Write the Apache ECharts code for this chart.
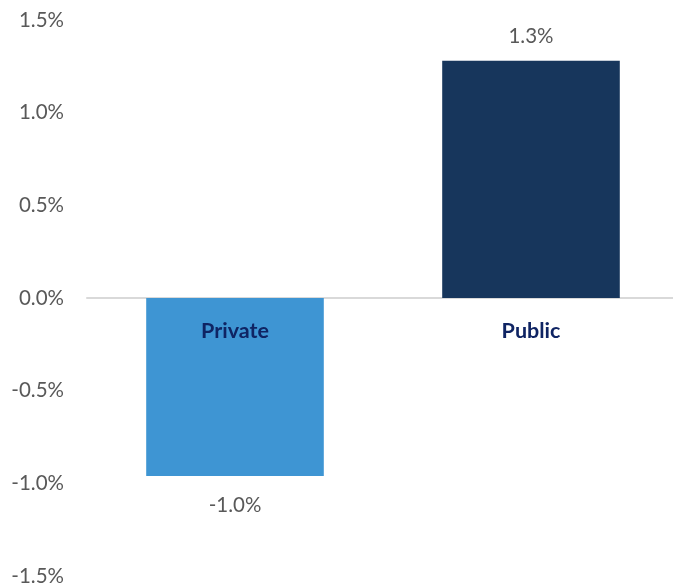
<!DOCTYPE html>
<html>
<head>
<meta charset="utf-8">
<script src="https://cdn.jsdelivr.net/npm/echarts@6/dist/echarts.min.js"></script>
<style>
  html, body { margin: 0; padding: 0; background: #ffffff; }
  #chart { width: 673px; height: 584px; }
</style>
</head>
<body>
<div id="chart"></div>
<script>
// Growth by sector, in percent
const categories = ['Private', 'Public'];
const values = [-0.96, 1.28];
const barColors = ['#3E95D3', '#17365C'];
const yTicks = [-1.5, -1.0, -0.5, 0.0, 0.5, 1.0, 1.5];

const fontFamily = 'Lato, "Open Sans", sans-serif';

const chart = echarts.init(document.getElementById('chart'));
chart.setOption({
  animation: false,
  grid: { left: 87, right: -6, top: 20, bottom: 8, containLabel: false, outerBoundsMode: 'none' },
  xAxis: {
    type: 'category',
    data: categories,
    axisLine: { onZero: true, lineStyle: { color: '#D9D9D9', width: 2 } },
    axisTick: { show: false },
    axisLabel: { show: false }
  },
  yAxis: {
    type: 'value',
    min: yTicks[0],
    max: yTicks[yTicks.length - 1],
    interval: 0.5,
    splitLine: { show: false },
    axisLine: { show: false },
    axisTick: { show: false },
    axisLabel: {
      margin: 23,
      color: '#595959',
      fontSize: 20.5,
      fontFamily: fontFamily,
      formatter: v => v.toFixed(1) + '%'
    }
  },
  series: [{
    type: 'bar',
    barWidth: '60%',
    data: values.map((v, i) => ({
      value: v,
      itemStyle: { color: barColors[i] },
      label: {
        show: true,
        position: v >= 0 ? 'top' : 'bottom',
        distance: v >= 0 ? 14 : 19
      }
    })),
    label: {
      color: '#595959',
      fontSize: 20.5,
      fontFamily: fontFamily,
      formatter: p => p.value.toFixed(1) + '%'
    }
  }, {
    // category names sit just below the zero line
    type: 'scatter',
    silent: true,
    symbolSize: 0,
    itemStyle: { opacity: 1, color: '#14296A' },
    data: categories.map(c => [c, 0]),
    label: {
      show: true,
      position: 'bottom',
      distance: 22,
      color: '#0F2463',
      opacity: 1,
      fontWeight: 'bold',
      fontSize: 21.5,
      fontFamily: fontFamily,
      formatter: p => p.value[0]
    },
    z: 5
  }]
});
</script>
</body>
</html>
